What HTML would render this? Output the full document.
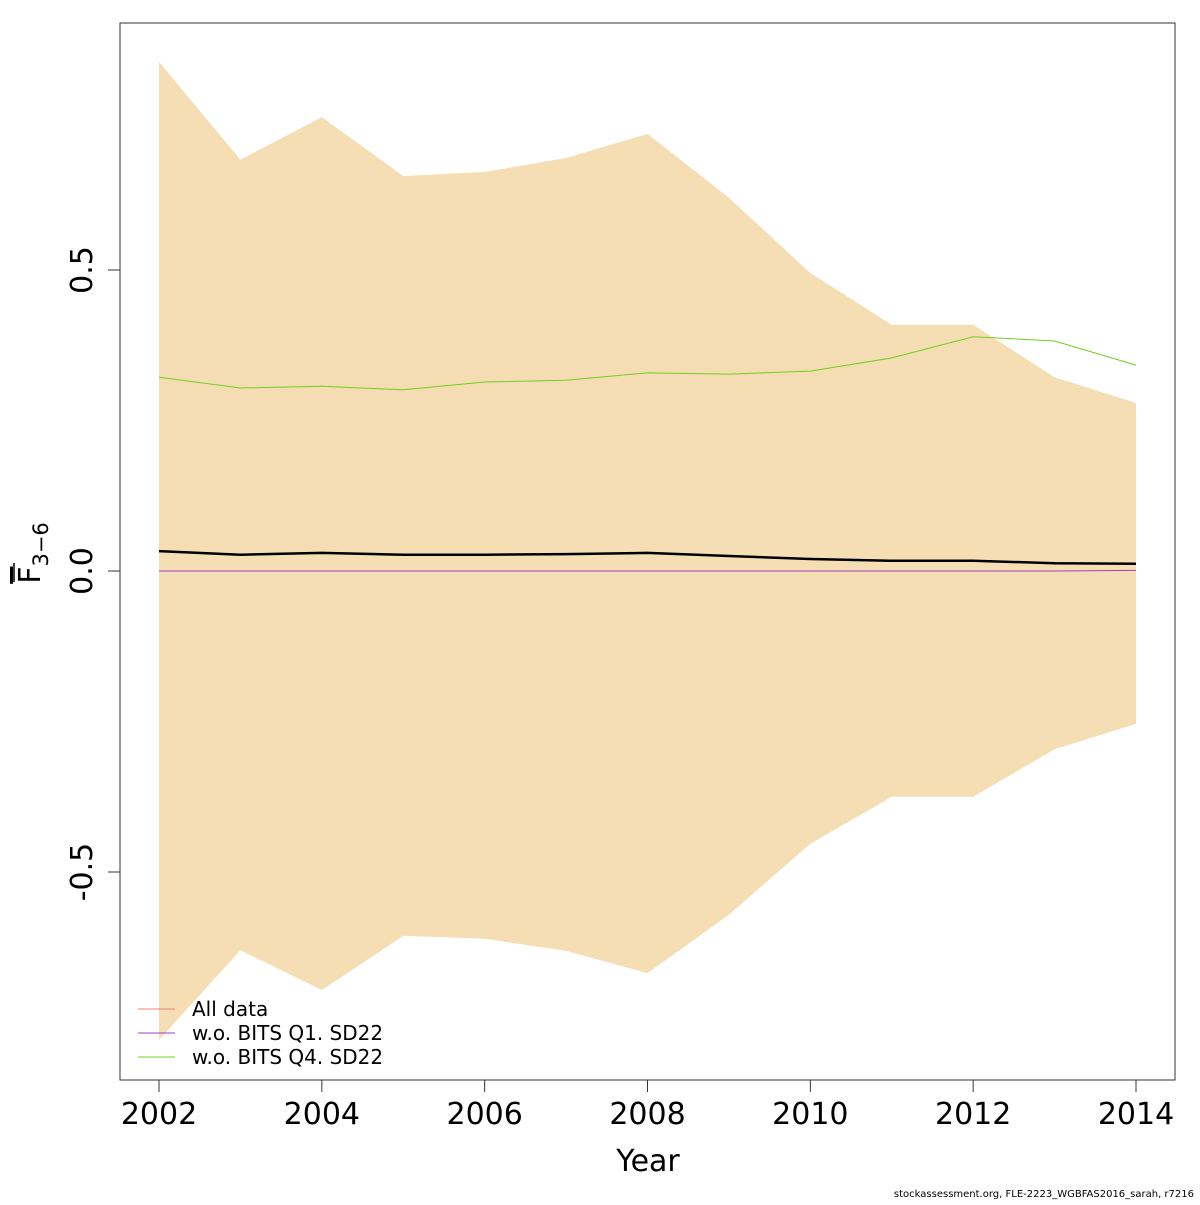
<!DOCTYPE html>
<html><head><meta charset="utf-8"><style>
body{margin:0;background:#fff;font-family:"Liberation Sans","DejaVu Sans",sans-serif}
</style></head><body>
<svg id="chart" width="1200" height="1200" xmlns="http://www.w3.org/2000/svg" font-family="DejaVu Sans, Liberation Sans, sans-serif">
<rect width="1200" height="1200" fill="#fff"/>
<g id="plot"></g>
</svg>
<script>
const years=[2002,2003,2004,2005,2006,2007,2008,2009,2010,2011,2012,2013,2014];
const upper=[0.846,0.683,0.754,0.656,0.663,0.686,0.726,0.620,0.495,0.409,0.409,0.322,0.279];
const lower=[-0.779,-0.630,-0.696,-0.606,-0.611,-0.631,-0.668,-0.571,-0.453,-0.375,-0.375,-0.296,-0.254];
const allData=[0.033,0.027,0.030,0.027,0.027,0.028,0.030,0.025,0.020,0.017,0.017,0.013,0.012];
const woQ1=[0,0,0,0,0,0,0,0,0,0,0,0,0.001];
const woQ4=[0.322,0.304,0.307,0.301,0.314,0.317,0.329,0.327,0.332,0.354,0.389,0.382,0.342];
const xTicks=[2002,2004,2006,2008,2010,2012,2014];
const yTicks=[-0.5,0,0.5];
const yTickLabels=["-0.5","0.0","0.5"];
const legendLabels=["All data","w.o. BITS Q1. SD22","w.o. BITS Q4. SD22"];
const legendColors=["#f08070","#a040c0","#70d020"];

const NS="http://www.w3.org/2000/svg";
const g=document.getElementById('plot');
const X=v=>159+(v-2002)*(1136-159)/12;
const Y=v=>571-v*602;
function mk(t,a,txt){const e=document.createElementNS(NS,t);for(const k in a)e.setAttribute(k,a[k]);if(txt!==undefined)e.textContent=txt;g.appendChild(e);return e;}
const pts=arr=>arr.map((v,i)=>X(years[i]).toFixed(1)+','+Y(v).toFixed(1)).join(' ');

let band=mk('polygon',{points:pts(upper)+' '+lower.map((v,i)=>[i,v]).reverse().map(([i,v])=>X(years[i]).toFixed(1)+','+Y(v).toFixed(1)).join(' '),fill:'#f5deb3'});



let l1=mk('polyline',{points:pts(allData),fill:'none',stroke:'#f08070','stroke-width':1});


let l2=mk('polyline',{points:pts(woQ1),fill:'none',stroke:'#a040c0','stroke-width':1});


let l3=mk('polyline',{points:pts(woQ4),fill:'none',stroke:'#70d020','stroke-width':1});


let l0=mk('polyline',{points:pts(allData),fill:'none',stroke:'#000','stroke-width':2.5});



let box=mk('rect',{x:120,y:23,width:1055,height:1057,fill:'none',stroke:'#333','stroke-width':1});



xTicks.forEach(t=>{
  let tk=mk('line',{x1:X(t),x2:X(t),y1:1080,y2:1092,stroke:'#333'});
  
  
  let lb=mk('text',{x:X(t),y:1124,'font-size':30,'text-anchor':'middle',fill:'#000'},String(t));
  
  
});
yTicks.forEach((t,i)=>{
  let tk=mk('line',{x1:108,x2:120,y1:Y(t),y2:Y(t),stroke:'#333'});
  
  
  let lb=mk('text',{x:92,y:Y(t),'font-size':30,'text-anchor':'middle',fill:'#000',transform:`rotate(-90 92 ${Y(t)})`},yTickLabels[i]);
  
  
});
let xt=mk('text',{x:648,y:1171,'font-size':30,'text-anchor':'middle'},'Year');


let yt=mk('text',{x:40,y:553,'font-size':30,'text-anchor':'middle',transform:'rotate(-90 40 553)'});


yt.innerHTML='<tspan text-decoration="overline">F</tspan><tspan font-size="21" dy="8">3−6</tspan>';
mk('line',{x1:14,x2:14,y1:563,y2:582,stroke:'#000','stroke-width':1.5});

legendLabels.forEach((s,i)=>{
  const y=1009+i*24;
  let ln=mk('line',{x1:138,x2:175,y1:y,y2:y,stroke:legendColors[i],'stroke-width':1});
  
  
  let tx=mk('text',{x:192,y:y+7,'font-size':20},s);
  
  
});
let cr=mk('text',{x:1194,y:1197,'font-size':10,'text-anchor':'end'},'stockassessment.org, FLE-2223_WGBFAS2016_sarah, r7216');


</script>
</body></html>
